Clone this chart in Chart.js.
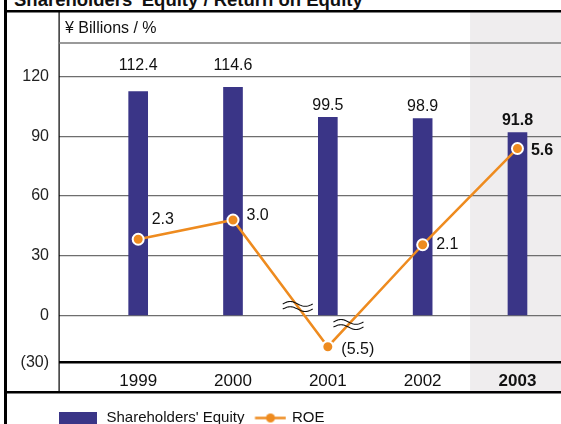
<!DOCTYPE html>
<html>
<head>
<meta charset="utf-8">
<script src="https://cdn.jsdelivr.net/npm/chart.js@4.4.0/dist/chart.umd.min.js"></script>
<style>
  html, body { margin: 0; padding: 0; background: #fff; overflow: hidden; }
  #wrap { position: relative; width: 561px; height: 424px; overflow: hidden; }
  #title { position: absolute; left: 14px; top: -10px; font: bold 18.5px 'Liberation Sans', Arial, sans-serif; line-height: 20px; white-space: nowrap; color: #111; }
  canvas { position: absolute; left: 0; top: 0; }
</style>
</head>
<body>
<div id="wrap">
  <div id="title">Shareholders' Equity / Return on Equity</div>
  <canvas id="chart" width="561" height="440"></canvas>
</div>
<script>
// --- DATA ---
const years = [1999, 2000, 2001, 2002, 2003];
const equity = [112.4, 114.6, 99.5, 98.9, 91.8];   // ¥ billions
const roe = [2.3, 3.0, -5.5, 2.1, 5.6];            // %
const yTicks = [-30, 0, 30, 60, 90, 120];
const unitLabel = '¥ Billions / %';
const seriesNames = ["Shareholders' Equity", 'ROE'];
const highlightYear = 2003;

// --- STYLE ---
const BLUE = '#3a3587';
const ORANGE = '#ee8b1f';
const SHADE = '#efedee';
const FONT = "'Liberation Sans', Arial, sans-serif";
const roeLabelDy = [-20, -4, 3, 0, 2]; // nudge ROE labels off the line

// Linear scale with the negative part squeezed below zero (axis break)
class BrokenScale extends Chart.LinearScale {
    static id = 'broken';
    getPixelForValue(v) {
        if (v === null || isNaN(v)) return NaN;
        const zf = this.options.zeroAt;
        const dec = v >= 0 ? zf + (1 - zf) * v / this.max : zf * (1 - v / this.min);
        return this.getPixelForDecimal(dec);
    }
    getValueForPixel(p) {
        const zf = this.options.zeroAt;
        const dec = this.getDecimalForPixel(p);
        return dec >= zf ? (dec - zf) / (1 - zf) * this.max : (1 - dec / zf) * this.min;
    }
}
Chart.register(BrokenScale);

// legend swatches
function makeSwatch(draw) {
    const c = document.createElement('canvas');
    c.width = 42; c.height = 13;
    draw(c.getContext('2d'));
    return c;
}
const barSwatch = makeSwatch(g => { g.fillStyle = BLUE; g.fillRect(0, 0, 38, 13); });
const lineSwatch = makeSwatch(g => {
    g.strokeStyle = ORANGE; g.lineWidth = 2.5;
    g.beginPath(); g.moveTo(10.5, 6.5); g.lineTo(41.5, 6.5); g.stroke();
    g.fillStyle = ORANGE;
    g.beginPath(); g.arc(26, 6.5, 4.5, 0, Math.PI * 2); g.fill();
});

function drawBreak(ctx, cx, cy) {
    ctx.save();
    ctx.strokeStyle = '#111';
    ctx.lineWidth = 1.1;
    [-2.6, 2.6].forEach(off => {
        ctx.beginPath();
        for (let t = 0; t <= 30; t++) {
            const px = cx - 15 + t;
            const py = cy + off - 2.4 * Math.sin(Math.PI * 2 * t / 30);
            if (t === 0) ctx.moveTo(px, py); else ctx.lineTo(px, py);
        }
        ctx.stroke();
    });
    ctx.restore();
}

// background shade, frame lines, unit text, axis breaks
const decor = {
    id: 'decor',
    beforeDraw(chart) {
        const { ctx, chartArea: a, scales: { x } } = chart;
        const left = x.getPixelForValue(highlightYear - 0.5);
        ctx.save();
        ctx.fillStyle = SHADE;
        ctx.fillRect(left, 12, a.right - left, 380);
        ctx.restore();
    },
    afterDraw(chart) {
        const { ctx, chartArea: a, scales: { y } } = chart;
        ctx.save();
        ctx.fillStyle = '#000';
        ctx.fillRect(4, 0, 3, 440);          // left edge
        ctx.fillRect(4, 10, 557, 2.5);       // top rule
        ctx.fillRect(4, 391, 557, 2.5);      // bottom rule
        ctx.fillRect(a.left - 0.5, 12, 1.2, 380);
        ctx.fillStyle = '#7a7a7a';
        ctx.fillRect(a.left, a.top - 0.75, a.right - a.left, 1.5);

        ctx.fillStyle = '#111';
        ctx.font = '16px ' + FONT;
        ctx.textAlign = 'left';
        ctx.textBaseline = 'middle';
        ctx.fillText(unitLabel, a.left + 6, 29);

        // break marks on the ROE segments that cross zero
        const pts = chart.getDatasetMeta(1).data;
        const zero = y.getPixelForValue(0);
        const onSeg = (p, q, yy) => p.x + (yy - p.y) / (q.y - p.y) * (q.x - p.x);
        roe.forEach((v, i) => {
            if (i === 0) return;
            if ((roe[i - 1] >= 0) !== (v >= 0)) {
                const yy = v < 0 ? zero - 9 : zero + 9;
                drawBreak(ctx, onSeg(pts[i - 1], pts[i], yy), yy);
            }
        });
        ctx.restore();
    }
};

const valueLabels = {
    id: 'valueLabels',
    afterDatasetsDraw(chart) {
        const { ctx, scales: { y } } = chart;
        const gridPx = yTicks.map(v => y.getPixelForValue(v));
        ctx.save();
        ctx.fillStyle = '#111';
        ctx.textBaseline = 'middle';
        chart.getDatasetMeta(0).data.forEach((bar, i) => {
            let ty = bar.y - 12;
            const hit = gridPx.find(g => Math.abs(g - ty) < 8);
            if (hit !== undefined) ty = hit - 10.5;
            ctx.font = (years[i] === highlightYear ? 'bold ' : '') + '16px ' + FONT;
            ctx.textAlign = 'center';
            ctx.fillText(equity[i].toFixed(1), bar.x, ty);
        });
        chart.getDatasetMeta(1).data.forEach((pt, i) => {
            const v = roe[i];
            const txt = v < 0 ? '(' + (-v).toFixed(1) + ')' : v.toFixed(1);
            ctx.font = (years[i] === highlightYear ? 'bold ' : '') + '16px ' + FONT;
            ctx.textAlign = 'left';
            ctx.fillText(txt, pt.x + 13.5, pt.y + roeLabelDy[i]);
        });
        ctx.restore();
    }
};

new Chart(document.getElementById('chart'), {
    data: {
        datasets: [
            {
                type: 'bar',
                label: seriesNames[0],
                data: years.map((yr, i) => ({ x: yr, y: equity[i] })),
                backgroundColor: BLUE,
                borderWidth: 0,
                barThickness: 19,
                yAxisID: 'y',
                order: 1
            },
            {
                type: 'line',
                label: seriesNames[1],
                data: years.map((yr, i) => ({ x: yr, y: roe[i] })),
                borderColor: ORANGE,
                borderWidth: 2.5,
                pointRadius: 5.5,
                pointBackgroundColor: ORANGE,
                pointBorderColor: '#fff',
                pointBorderWidth: 2,
                tension: 0,
                yAxisID: 'y2',
                order: 0
            }
        ]
    },
    options: {
        responsive: false,
        maintainAspectRatio: false,
        animation: false,
        events: [],
        layout: { autoPadding: false, padding: { left: 0, top: 43, right: 0, bottom: 4.5 } },
        scales: {
            x: {
                type: 'linear',
                offset: false,
                bounds: 'data',
                min: years[0] - 0.835,
                max: years[years.length - 1] + 0.459,
                afterBuildTicks: s => { s.ticks = years.map(v => ({ value: v })); },
                afterFit: s => { s.height = 45.8; s.paddingLeft = 0; s.paddingRight = 0; },
                grid: { display: false, drawTicks: false },
                border: { display: false },
                ticks: {
                    padding: 8,
                    maxRotation: 0,
                    autoSkip: false,
                    color: '#111',
                    font: c => ({ family: FONT, size: 17, weight: c.tick && c.tick.value === highlightYear ? 'bold' : 'normal' }),
                    callback: v => String(v)
                }
            },
            y: {
                type: 'broken',
                position: 'left',
                bounds: 'data',
                min: -30,
                max: 136.8,
                zeroAt: 0.1476,
                afterBuildTicks: s => { s.ticks = yTicks.map(v => ({ value: v })); },
                afterFit: s => { s.width = 59; s.paddingTop = 0; s.paddingBottom = 0; },
                grid: {
                    drawTicks: false,
                    color: c => c.tick && c.tick.value === yTicks[0] ? '#000' : '#6e6e6e',
                    lineWidth: c => c.tick && c.tick.value === yTicks[0] ? 2.5 : 1.2
                },
                border: { display: false },
                ticks: {
                    padding: 10,
                    color: '#222',
                    font: { family: FONT, size: 16 },
                    callback: v => v < 0 ? '(' + (-v) + ')' : String(v)
                }
            },
            y2: {
                type: 'broken',
                position: 'right',
                display: false,
                bounds: 'data',
                min: -7.49,
                max: 9.436,
                zeroAt: 0.1883
            }
        },
        plugins: {
            title: { display: false },
            tooltip: { enabled: false },
            legend: {
                position: 'bottom',
                align: 'start',
                fullSize: false,
                labels: {
                    usePointStyle: true,
                    pointStyleWidth: 38,
                    padding: 2,
                    color: '#111',
                    font: { family: FONT, size: 15 },
                    generateLabels: chart => {
                        const items = Chart.defaults.plugins.legend.labels.generateLabels(chart);
                        items.forEach(it => { it.pointStyle = it.datasetIndex === 0 ? barSwatch : lineSwatch; });
                        return items.sort((a, b) => a.datasetIndex - b.datasetIndex);
                    }
                }
            }
        }
    },
    plugins: [decor, valueLabels]
});
</script>
</body>
</html>
